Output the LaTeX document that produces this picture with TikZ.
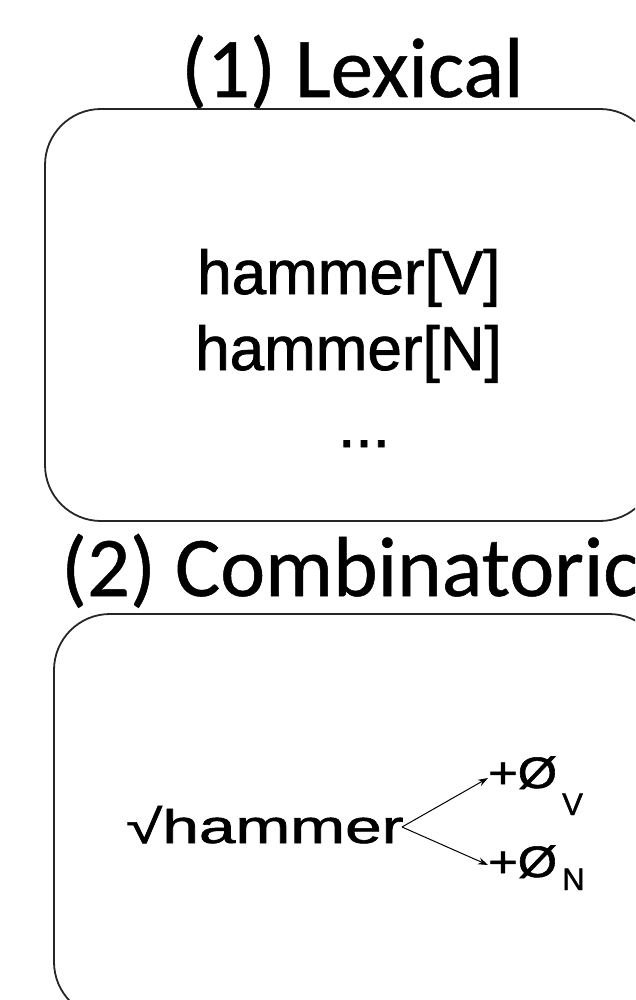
\documentclass[tikz,border=0pt]{standalone}
\usepackage{fontspec}
\setmainfont{Liberation Sans}[FakeBold=1.2]
\newfontfamily\titlefont{Carlito}[FakeBold=0.6]
\usetikzlibrary{arrows.meta}
\tikzset{
  panel/.style={draw=black!85, line width=1.8pt, rounded corners=56pt},
  title/.style={inner sep=0pt, anchor=base west, font=\titlefont\fontsize{85}{100}\selectfont},
  lexword/.style={inner sep=0pt, anchor=base west, font=\fontsize{62}{74}\selectfont},
  rootword/.style={inner sep=0pt, anchor=base west, font=\fontsize{47}{56}\selectfont},
  affix/.style={inner sep=0pt, anchor=base west, font=\fontsize{44}{52}\selectfont},
  subscr/.style={inner sep=0pt, anchor=base west, font=\fontsize{31}{37}\selectfont},
  branch/.style={-{Stealth[length=10pt,width=7pt]}, line width=1pt, black}
}
\begin{document}
\begin{tikzpicture}[x=1pt, y=-1pt]
\useasboundingbox (0,0) rectangle (635,1000);
\clip (0,0) rectangle (635,1000);
% titles
\node[title] (t1) at (181,97) {(1) Lexical};
\node[title] (t2) at (61,596) {(2) Combinatoric};
% panels
\draw[panel] (45,109) rectangle (656,521);
\draw[panel] (54,614) rectangle (665,1018);
% lexical entries
\node[lexword] (hv) at (197,294) {hammer[V]};
\node[lexword] (hn) at (195,370) {hammer[N]};
\node[lexword] (dots) at (338,447) {...};
% combinatoric
\node[rootword] (root) at (126,843) {\scalebox{1.4}[1]{√hammer}};
\coordinate (split) at (402,827);
\node[affix] (zv) at (488,788) {\scalebox{1.15}[1]{+Ø}};
\node[subscr] (sv) at (562,815) {V};
\node[affix] (zn) at (488,877) {\scalebox{1.15}[1]{+Ø}};
\node[subscr] (sn) at (562,890) {N};
\draw[branch] (split) -- ([yshift=10pt]zv.base west);
\draw[branch] (split) -- ([yshift=12pt]zn.base west);
\end{tikzpicture}
\end{document}
